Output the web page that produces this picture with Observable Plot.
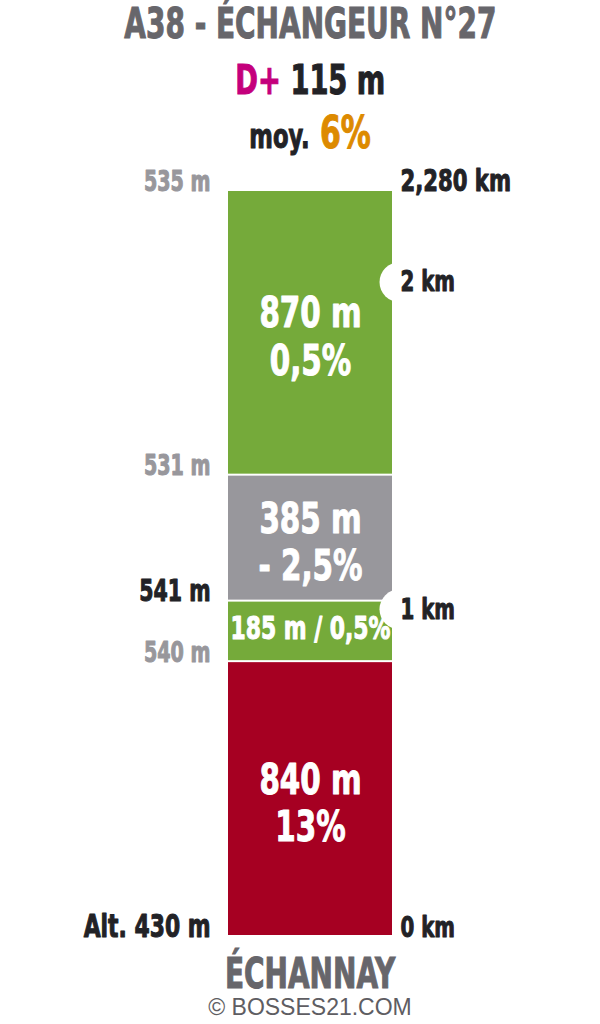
<!DOCTYPE html>
<html>
<head>
<meta charset="utf-8">
<script src="https://cdn.jsdelivr.net/npm/d3@7"></script>
<script src="https://cdn.jsdelivr.net/npm/@observablehq/plot@0.6"></script>
<style>
  html, body { margin: 0; padding: 0; background: #fff; }
  body { width: 600px; height: 1024px; position: relative; overflow: hidden; }
  .cond { font-family: "DejaVu Sans Condensed", "DejaVu Sans", sans-serif; font-weight: bold; -webkit-text-stroke: 1px currentColor; }
  .line { position: absolute; left: 20px; width: 580px; text-align: center; white-space: nowrap; line-height: 1; }
  .sq { display: inline-block; transform: scaleX(0.74); transform-origin: 50% 50%; }
  #chart { position: absolute; left: 0; top: 160px; }
</style>
</head>
<body>
<div class="line cond" style="top:3px; font-size:42px; color:#67666b;"><span class="sq" id="title"></span></div>
<div class="line cond" style="top:60px; font-size:41px; color:#222226;"><span class="sq" id="dplus"></span></div>
<div class="line cond" style="top:110px; font-size:45px; line-height:45px; color:#222226;"><span class="sq" id="avg"></span></div>
<div id="chart"></div>
<div class="line cond" style="top:953px; font-size:42px; color:#67666b;"><span class="sq" id="place"></span></div>
<div class="line" id="credit" style="top:997px; font-size:23px; line-height:20px; color:#5e5d62; font-family:'Liberation Sans', Arial, sans-serif;"></div>
<script>
// ---- data ----
const titleText = "A38 - ÉCHANGEUR N°27";
const placeName = "ÉCHANNAY";
const creditText = "© BOSSES21.COM";
const totalGain = 115;        // D+ in m
const averageGrade = "6%";
const segLengths = [840, 185, 385, 870];            // m, bottom to top
const segGrades = ["13%", "0,5%", "- 2,5%", "0,5%"];
const segTypes = ["climb", "flat", "descent", "flat"];
const altitudes = [430, 540, 541, 531, 535];        // m at each boundary
const kmMarks = [1000, 2000];                       // intermediate km marks (m)
const kmLabels = ["1 km", "2 km"];
const totalLabel = "2,280 km";
const startLabel = "0 km";

// ---- header / footer ----
document.getElementById("title").textContent = titleText;
document.getElementById("dplus").innerHTML = `<span style="color:#c4007c">D+</span> ${totalGain} m`;
document.getElementById("avg").innerHTML = `<span style="font-size:34px">moy.</span> <span style="color:#dd8a00">${averageGrade}</span>`;
document.getElementById("place").textContent = placeName;
document.getElementById("credit").textContent = creditText;

// ---- derived tables ----
let acc = 0;
const segments = segLengths.map((len, i) => {
  const s = {start: acc, end: acc + len, length: len, grade: segGrades[i], type: segTypes[i]};
  acc += len;
  return s;
});
const total = acc;
const boundaries = altitudes.map((alt, i) => ({
  dist: i === 0 ? 0 : segments[i - 1].end,
  alt,
  first: i === 0
}));
const minAlt = d3.min(altitudes), maxAlt = d3.max(altitudes);
const kmData = kmMarks.map((m, i) => ({m, label: kmLabels[i]}));
const ends = [{m: 0, label: startLabel, big: false}, {m: total, label: totalLabel, big: true}];

const FONT = '"DejaVu Sans Condensed", "DejaVu Sans", sans-serif';
const bold = (fill, size) => ({fill, stroke: fill, strokeWidth: 1, fontSize: size, fontWeight: "bold", fontFamily: FONT});

const chart = Plot.plot({
  width: 600,
  height: 785,
  marginTop: 30,
  marginBottom: 9,
  marginLeft: 228,
  marginRight: 208,
  x: {domain: [0, 1], axis: null},
  y: {domain: [0, total], axis: null},
  color: {domain: ["climb", "flat", "descent"], range: ["#a60022", "#75aa3a", "#98979c"]},
  marks: [
    Plot.rect(segments, {x1: () => 0, x2: () => 1, y1: "start", y2: "end", fill: "type", insetTop: 1, insetBottom: 1}),
    Plot.dot(kmData, {x: () => 1, y: "m", r: 20, dx: 7, fill: "white", stroke: null}),
    // segment labels
    Plot.text(segments.filter(d => d.length >= 300), {
      x: () => 0.5, y: d => (d.start + d.end) / 2,
      text: d => `${d.length} m\n${d.grade}`,
      ...bold("white", 43), lineHeight: 1.1, dy: 3
    }),
    Plot.text(segments.filter(d => d.length < 300), {
      x: () => 0.5, y: d => (d.start + d.end) / 2,
      text: d => `${d.length} m / ${d.grade}`,
      ...bold("white", 32), dy: -3
    }),
    // altitude labels (left)
    Plot.text(boundaries, {
      x: () => 0, y: "dist", dx: -18, textAnchor: "end", lineAnchor: "bottom",
      text: d => (d.first ? "Alt. " : "") + d.alt + " m",
      fill: d => (d.alt === minAlt || d.alt === maxAlt) ? "#222226" : "#98979c",
      stroke: d => (d.alt === minAlt || d.alt === maxAlt) ? "#222226" : "#98979c",
      strokeWidth: 1,
      fontSize: d => d.first ? 32 : (d.alt === maxAlt ? 30 : 28),
      fontWeight: "bold", fontFamily: FONT
    }),
    // km labels (right)
    Plot.text(kmData, {
      x: () => 1, y: "m", dx: 8, textAnchor: "start", lineAnchor: "middle",
      text: "label", ...bold("#222226", 29)
    }),
    Plot.text(ends, {
      x: () => 1, y: "m", dx: 8, textAnchor: "start", lineAnchor: "bottom",
      text: "label", ...bold("#222226", 29), fontSize: d => d.big ? 31 : 29
    })
  ]
});
document.getElementById("chart").appendChild(chart);

// condense the bold labels horizontally around their anchor point
const SQ = 0.76;
chart.querySelectorAll("text").forEach(t => {
  const tr = t.getAttribute("transform");
  if (tr) {
    t.setAttribute("transform", tr + ` scale(${SQ},1)`);
  } else {
    const x = +(t.getAttribute("x") || 0);
    t.setAttribute("transform", `translate(${x},0) scale(${SQ},1) translate(${-x},0)`);
  }
});
</script>
</body>
</html>
